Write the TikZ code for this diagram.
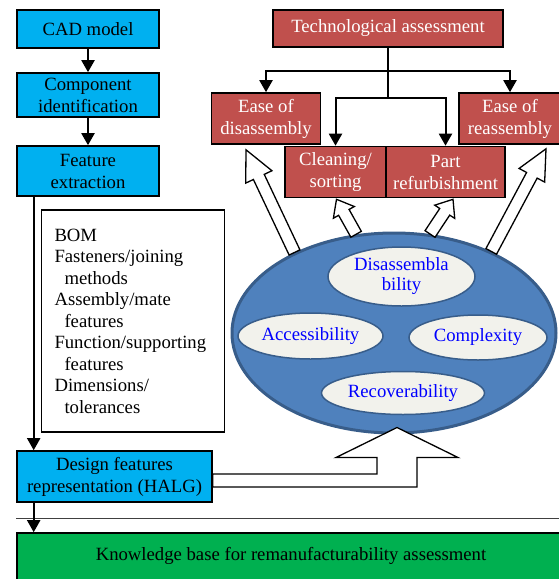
\documentclass[tikz,border=0pt]{standalone}
\usepackage{fontspec}
\setmainfont{Liberation Serif}
\usetikzlibrary{shapes.geometric,arrows.meta,calc}

\definecolor{cadblue}{HTML}{00B0F0}
\definecolor{assessred}{HTML}{C0504D}
\definecolor{kbgreen}{HTML}{00B050}
\definecolor{ringblue}{HTML}{4F81BD}
\definecolor{ringedge}{HTML}{385D8A}
\definecolor{bubblefill}{HTML}{F2F2EC}

\newcommand{\hollowarrow}[4]{%
  \coordinate (hn) at ($(#2)!#3!(#1)$);
  \draw[hollow] ($(#1)!6pt!90:(#2)$) -- ($(hn)!6pt!-90:(#1)$) -- ($(hn)!#4!-90:(#1)$) -- (#2)
    -- ($(hn)!#4!90:(#1)$) -- ($(hn)!6pt!90:(#1)$) -- ($(#1)!6pt!-90:(#2)$) -- cycle;
}

\begin{document}
\begin{tikzpicture}[x=1pt,y=-1pt,
  box/.style={draw, line width=1.6pt, inner sep=0pt, align=center, font=\fontsize{18.7}{22}\selectfont},
  bluebox/.style={box, fill=cadblue},
  redbox/.style={box, fill=assessred, text=white},
  bubble/.style={ellipse, draw=ringedge, line width=1.5pt, fill=bubblefill, text=blue, inner sep=0pt, align=center, font=\fontsize{18.7}{20}\selectfont},
  arr/.style={line width=2pt, -{Triangle[length=12pt,width=13pt]}},
  hollow/.style={draw, line width=1.3pt, fill=white, line join=miter}]
\useasboundingbox (0,0) rectangle (559,579);

\node[bluebox, minimum width=142pt, minimum height=38pt] (cad) at (88,29) {CAD model};
\node[bluebox, minimum width=142pt, minimum height=44pt] (comp) at (88,95) {Component\\identification};
\node[bluebox, minimum width=142pt, minimum height=50pt] (feat) at (88,171) {Feature\\extraction};
\node[box, line width=1.4pt, text width=157pt, inner xsep=13pt, minimum height=222pt, align=left,
  font=\fontsize{18.7}{21.5}\selectfont] (bom) at (133,321)
  {BOM\\Fasteners/joining\\\hspace*{10pt}methods\\Assembly/mate\\\hspace*{10pt}features\\
   Function/supporting\\\hspace*{10pt}features\\Dimensions/\\\hspace*{10pt}tolerances};
\node[bluebox, minimum width=195pt, minimum height=51pt] (design) at (114.5,476.5) {Design features\\representation (HALG)};
\node[box, fill=kbgreen, minimum width=548pt, minimum height=60pt, text height=13pt, text depth=19pt] (kb) at (291,563)
  {Knowledge base for remanufacturability assessment};

\node[redbox, minimum width=230pt, minimum height=37pt] (tech) at (388,28.5) {Technological assessment};
\node[redbox, minimum width=109pt, minimum height=51pt] (eod) at (266,118.5) {Ease of\\disassembly};
\node[redbox, minimum width=102pt, minimum height=51pt] (eor) at (510,118.5) {Ease of\\reassembly};
\node[redbox, minimum width=101pt, minimum height=51pt] (clean) at (335.5,172) {Cleaning/\\sorting};
\node[redbox, minimum width=119pt, minimum height=51pt] (refurb) at (445.5,172) {Part\\refurbishment};

\node[ellipse, draw=ringedge, line width=3pt, fill=ringblue, minimum width=324pt, minimum height=200pt] (big) at (394,333) {};
\node[bubble, minimum width=147pt, minimum height=59pt] (dis) at (401.5,276.5) {Disassembla\\bility};
\node[bubble, minimum width=145pt, minimum height=46pt] (acc) at (310.5,336) {Accessibility};
\node[bubble, minimum width=138pt, minimum height=45pt] (cpx) at (478,337.5) {Complexity};
\node[bubble, minimum width=163pt, minimum height=43pt] (rec) at (403,393) {Recoverability};

\draw[arr] (cad) -- (comp);
\draw[arr] (comp) -- (feat);
\draw[line width=1.2pt, black!75] ([yshift=14pt]kb.north west) -- ([yshift=14pt]kb.north east);
\draw[arr] ([xshift=17.5pt]feat.south west) -- ([xshift=17.5pt]design.north west);
\draw[arr] ([xshift=17.5pt]design.south west) -- ([xshift=17.5pt]kb.north west);

\coordinate (split1) at ([yshift=-23pt]tech.south);
\coordinate (split2) at ([yshift=-50pt]tech.south);
\draw[line width=2pt] (tech.south) -- (split2);
\draw[arr] (split1) -| (eod.north);
\draw[arr] (split1) -| (eor.north);
\draw[arr] (split2) -| (clean.north);
\draw[arr] (split2) -| (refurb.north);

\coordinate (eodtip) at ([xshift=-20pt,yshift=-5pt]eod.south);
\coordinate (cleantip) at ([xshift=1pt,yshift=-1pt]clean.south);
\coordinate (refurbtip) at ([xshift=7.5pt,yshift=-1pt]refurb.south);
\coordinate (eortip) at ([xshift=36pt,yshift=-4pt]eor.south);
\hollowarrow{big.141}{eodtip}{30pt}{14.5pt}
\hollowarrow{big.111}{cleantip}{15pt}{12pt}
\hollowarrow{big.70}{refurbtip}{15pt}{12pt}
\hollowarrow{big.40}{eortip}{30pt}{14.5pt}

\coordinate (uptip) at ([xshift=3pt,yshift=7pt]big.south);
\coordinate (bandtop) at ([yshift=2.5pt]design.east);
\coordinate (bandbot) at ([yshift=-10.5pt]design.east);
\draw[hollow] (bandtop) -- ($(uptip |- bandtop)+(-20,0)$) -- ($(uptip)+(-20,30)$) -- ($(uptip)+(-61,30)$) -- (uptip)
  -- ($(uptip)+(61,30)$) -- ($(uptip)+(20,30)$) -- ($(uptip |- bandbot)+(20,0)$) -- (bandbot) -- cycle;
\end{tikzpicture}
\end{document}
